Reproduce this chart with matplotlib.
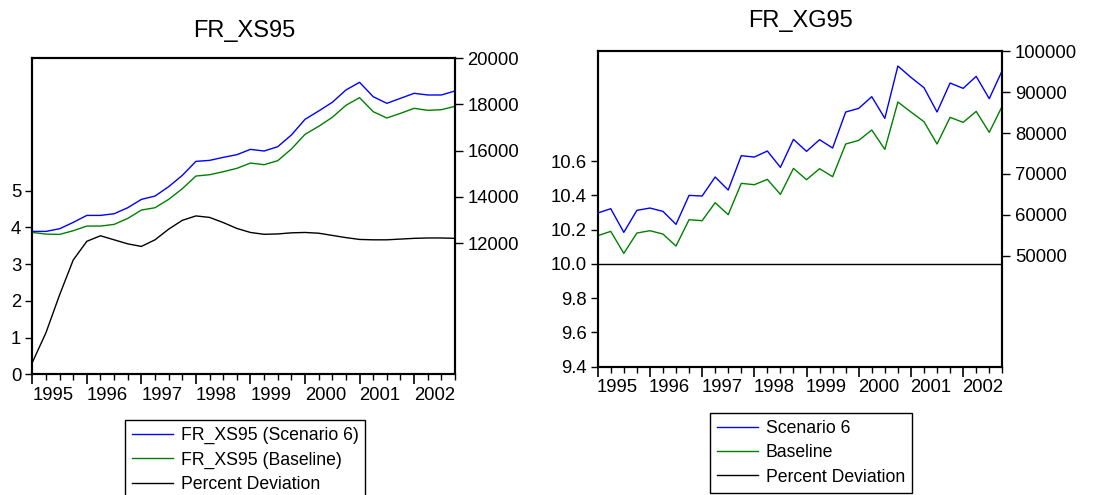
import matplotlib
matplotlib.use("Agg")
import matplotlib.pyplot as plt
import numpy as np

plt.rcParams["font.family"] = ["Liberation Sans", "DejaVu Sans"]

# quarterly observations 1995Q1 .. 2002Q4
years = ["1995", "1996", "1997", "1998", "1999", "2000", "2001", "2002"]
n_q = 32

xs_scen = [12506, 12506, 12621, 12896, 13199, 13199, 13271, 13531,
           13892, 14036, 14441, 14931, 15538, 15581, 15711, 15827,
           16058, 15986, 16173, 16679, 17357, 17718, 18094, 18628,
           18960, 18339, 18051, 18267, 18484, 18412, 18412, 18585]
xs_base = [12462, 12390, 12376, 12535, 12737, 12737, 12809, 13069,
           13430, 13531, 13892, 14354, 14903, 14960, 15090, 15235,
           15466, 15394, 15567, 16072, 16708, 17054, 17444, 17964,
           18296, 17690, 17415, 17617, 17834, 17747, 17776, 17921]
xs_dev = [0.32, 1.13, 2.16, 3.11, 3.62, 3.77, 3.66, 3.55,
          3.48, 3.66, 3.95, 4.19, 4.31, 4.27, 4.13, 3.97,
          3.86, 3.81, 3.82, 3.85, 3.86, 3.84, 3.78, 3.72,
          3.67, 3.66, 3.66, 3.68, 3.70, 3.71, 3.71, 3.70]

xg_scen = [60439, 61500, 55708, 61091, 61662, 60846, 57665, 64761,
           64598, 69248, 66067, 74469, 74143, 75611, 71614, 78466,
           75529, 78385, 76345, 85155, 86051, 88906, 83604, 96411,
           93638, 91109, 85155, 92251, 90946, 93883, 88417, 95350]
xg_base = [54891, 55953, 50569, 55545, 56116, 55300, 52363, 58807,
           58562, 62967, 60031, 67698, 67372, 68677, 65006, 71369,
           68596, 71288, 69330, 77324, 78221, 80749, 76019, 87601,
           85155, 82789, 77324, 83849, 82626, 85318, 80179, 86622]
xg_dev = [10.0] * n_q

BLUE = "#0000ff"
GREEN = "#008000"
FS = 13.3


def panel(rect, scen, base, dev, lab_scen, lab_base, ylim_l, yt_l, ylim_r, yt_r, fmt_l):
    ax = fig.add_axes(rect)
    ax2 = ax.twinx()
    q = np.arange(n_q)
    l3, = ax.plot(q, dev, color="black", lw=1.0, label="Percent Deviation")
    l1, = ax2.plot(q, scen, color=BLUE, lw=1.0, label=lab_scen)
    l2, = ax2.plot(q, base, color=GREEN, lw=1.0, label=lab_base)

    ax.set_xlim(0, n_q - 1)
    ax.set_ylim(*ylim_l)
    ax.set_yticks(yt_l)
    ax.set_yticklabels([fmt_l.format(v) for v in yt_l])
    ax2.set_ylim(*ylim_r)
    ax2.set_yticks(yt_r)

    ax.set_xticks(range(0, n_q, 4))
    ax.set_xticklabels([])
    ax.set_xticks(range(n_q), minor=True)
    ax.tick_params(axis="x", which="major", length=7, width=1.2, direction="out")
    ax.tick_params(axis="x", which="minor", length=4, width=1.0, direction="out")
    ax.tick_params(axis="y", length=5, width=1.0, labelsize=FS, pad=3)
    ax2.tick_params(axis="y", length=6, width=1.0, labelsize=FS, pad=3)

    sec = ax.secondary_xaxis("bottom")
    sec.set_xticks([4 * k + 1.5 for k in range(len(years))])
    sec.set_xticklabels(years)
    sec.tick_params(length=0, labelsize=FS, pad=9)
    sec.spines["bottom"].set_visible(False)

    for a in (ax, ax2):
        for s in a.spines.values():
            s.set_linewidth(1.5)
    return ax, [l1, l2, l3]


fig = plt.figure(figsize=(10.95, 4.95), dpi=100)

W, H = 1095.0, 495.0

ax_a, h_a = panel([32.3 / W, 1 - 374.3 / H, (455 - 32.3) / W, (374.3 - 58.3) / H],
                  xs_scen, xs_base, xs_dev,
                  "FR_XS95 (Scenario 6)", "FR_XS95 (Baseline)",
                  (0, 8.6), [0, 1, 2, 3, 4, 5], (6320, 20000),
                  [12000, 14000, 16000, 18000, 20000], "{:.0f}")

ax_b, h_b = panel([597.7 / W, 1 - 366.7 / H, (1002.3 - 597.7) / W, (366.7 - 50.7) / H],
                  xg_scen, xg_base, xg_dev,
                  "Scenario 6", "Baseline",
                  (9.4, 11.244), [9.4, 9.6, 9.8, 10.0, 10.2, 10.4, 10.6], (22840, 100160),
                  [50000, 60000, 70000, 80000, 90000, 100000], "{:.1f}")

fig.text(244 / W, 1 - 36.5 / H, "FR_XS95", fontsize=17, ha="center", va="baseline")
fig.text(800 / W, 1 - 27.5 / H, "FR_XG95", fontsize=17, ha="center", va="baseline")

leg_kw = dict(fontsize=12.7, frameon=True, fancybox=False, shadow=False, framealpha=1,
              edgecolor="black", handlelength=2.3, handletextpad=0.45,
              labelspacing=0.42, borderpad=0.4, borderaxespad=0)
lg1 = fig.legend(handles=h_a, loc="upper left",
                 bbox_to_anchor=(125 / W, 1 - 420 / H), **leg_kw)
lg2 = fig.legend(handles=h_b, loc="upper left",
                 bbox_to_anchor=(710 / W, 1 - 412.7 / H), **leg_kw)
for lg in (lg1, lg2):
    lg.get_frame().set_linewidth(1.0)

fig.savefig("out.png", dpi=100)
